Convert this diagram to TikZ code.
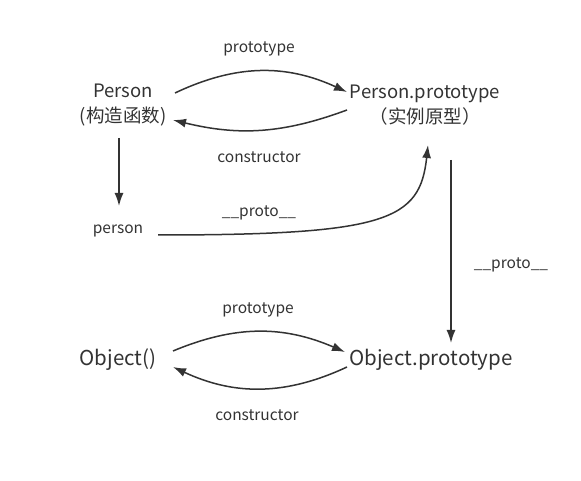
\documentclass[tikz,border=0pt]{standalone}
\usepackage{fontspec}
\setmainfont{Noto Sans CJK SC}
\usetikzlibrary{arrows.meta,calc}
\definecolor{ink}{HTML}{333333}
\tikzset{
  concept/.style={text=ink,font=\fontsize{18.5}{25}\selectfont,align=center,inner sep=0pt},
  bigconcept/.style={concept,font=\fontsize{20.5}{25}\selectfont},
  tag/.style={text=ink,font=\fontsize{15.5}{18}\selectfont,inner sep=0pt},
  link/.style={draw=ink,line width=1.5pt,-{Latex[length=13pt,width=9pt]}}
}
\begin{document}
\begin{tikzpicture}[x=1pt,y=1pt]
\useasboundingbox (0,0) rectangle (581,481);

\node[concept] (Person) at (123,376) {Person\\(构造函数)};
\node[concept] (PP) at (425,376) {Person.prototype\\（实例原型）};
\node[tag] (person) at (118,250) {person};
\node[bigconcept] (Object) at (118,121) {Object()};
\node[bigconcept] (OP) at (431,121) {Object.prototype};

\draw[link] ($(Person)+(52,12)$) to[bend left=25] ($(PP)+(-78,13)$);
\draw[link] ($(PP)+(-78,-5)$) to[bend left=17] ($(Person)+(50,-15)$);
\draw[link] ($(Person)+(-4,-33)$) -- ($(person)+(1,25)$);
\draw[link] ($(person)+(40,-4)$) .. controls +(230,0) and +(-8,-75) .. ($(PP)+(3,-40)$);
\draw[link] ($(PP)+(26,-55)$) -- ($(OP)+(20,17)$);
\draw[link] ($(Object)+(55,9)$) to[bend left=23] ($(OP)+(-86,8)$);
\draw[link] ($(OP)+(-84,-7)$) to[bend left=25] ($(Object)+(55,-7)$);

\node[tag] (ptype1) at (259,432) {prototype};
\node[tag] (cons1) at (259,324) {constructor};
\node[tag] (proto1) at (259,268) {\_\_proto\_\_};
\node[tag] (proto2) at (511,216) {\_\_proto\_\_};
\node[tag] (ptype2) at (258,171) {prototype};
\node[tag] (cons2) at (257,66) {constructor};
\end{tikzpicture}
\end{document}
